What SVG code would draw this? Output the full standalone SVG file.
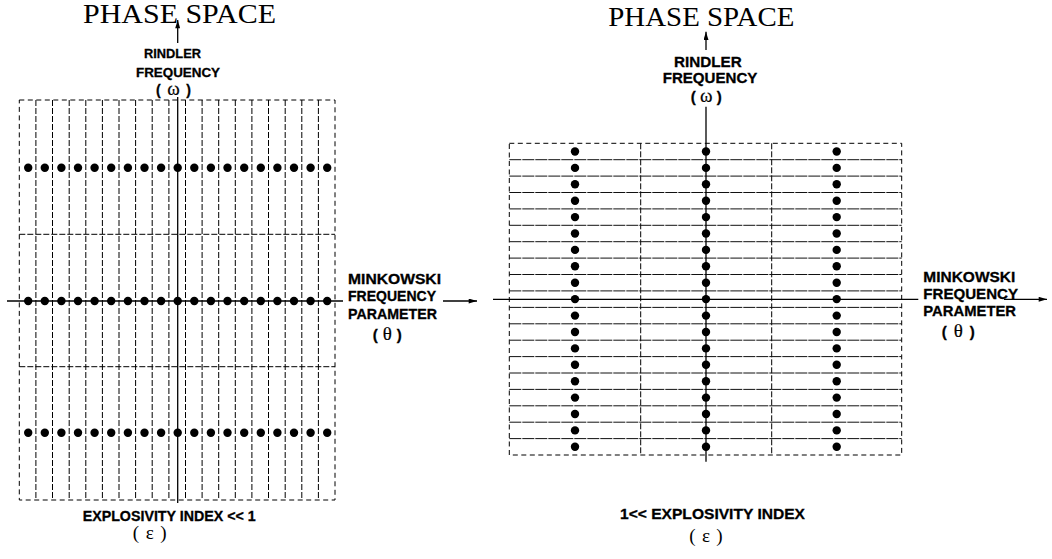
<svg xmlns="http://www.w3.org/2000/svg" width="1052" height="559" viewBox="0 0 1052 559">
<style>
.title{font-family:"Liberation Serif","Times New Roman",serif;font-size:27px;fill:#000}
.lab{font-family:"Liberation Sans",Arial,sans-serif;font-weight:bold;fill:#000;stroke:#000;stroke-width:0.3}
.greek{font-family:"Liberation Serif","Times New Roman",serif;font-weight:normal;font-size:19px;stroke-width:0.2}
.ser{font-family:"Liberation Serif","Times New Roman",serif;font-size:19px;fill:#000}
.outer{fill:none;stroke:#000;stroke-width:1;stroke-dasharray:5 3.5}
.vin{stroke:#000;stroke-width:1;stroke-dasharray:6 2}
.hin{stroke:#111;stroke-width:1;stroke-dasharray:12 1}
.axis{stroke:#000;stroke-width:1.3;fill:none}
.dot{fill:#000}
</style>
<defs>
<marker id="ah" viewBox="0 0 10 6" markerWidth="9" markerHeight="5" refX="10" refY="3" orient="auto" markerUnits="userSpaceOnUse">
<path d="M0,0 L10,3 L0,6 z" fill="#000"/>
</marker>
<circle id="d" r="4.2" class="dot"/>
</defs>

<!-- LEFT PANEL -->
<g id="left-title">
<text class="title" x="83" y="23" textLength="193" lengthAdjust="spacingAndGlyphs">PHASE SPACE</text>
</g>
<g id="left-rindler-label">
<text class="lab" font-size="13" x="144" y="58.3" textLength="57" lengthAdjust="spacingAndGlyphs">RINDLER</text>
<text class="lab" font-size="13" x="136" y="76.7" textLength="84" lengthAdjust="spacingAndGlyphs">FREQUENCY</text>
<text class="lab" font-size="14" x="156" y="95" textLength="35" lengthAdjust="spacing">(<tspan class="greek"> ω </tspan>)</text>
</g>
<g id="left-grid">
<rect class="outer" x="19.3" y="100" width="315.7" height="400"/>
<g class="vin">
<line x1="35.9" y1="100" x2="35.9" y2="500"/>
<line x1="52.5" y1="100" x2="52.5" y2="500"/>
<line x1="69.2" y1="100" x2="69.2" y2="500"/>
<line x1="85.8" y1="100" x2="85.8" y2="500"/>
<line x1="102.4" y1="100" x2="102.4" y2="500"/>
<line x1="119.0" y1="100" x2="119.0" y2="500"/>
<line x1="135.6" y1="100" x2="135.6" y2="500"/>
<line x1="152.2" y1="100" x2="152.2" y2="500"/>
<line x1="168.9" y1="100" x2="168.9" y2="500"/>
<line x1="185.5" y1="100" x2="185.5" y2="500"/>
<line x1="202.1" y1="100" x2="202.1" y2="500"/>
<line x1="218.7" y1="100" x2="218.7" y2="500"/>
<line x1="235.3" y1="100" x2="235.3" y2="500"/>
<line x1="251.9" y1="100" x2="251.9" y2="500"/>
<line x1="268.5" y1="100" x2="268.5" y2="500"/>
<line x1="285.2" y1="100" x2="285.2" y2="500"/>
<line x1="301.8" y1="100" x2="301.8" y2="500"/>
<line x1="318.4" y1="100" x2="318.4" y2="500"/>
</g>
<line class="vin" x1="19.3" y1="234.3" x2="335" y2="234.3"/>
<line class="vin" x1="19.3" y1="366.7" x2="335" y2="366.7"/>
</g>
<g id="left-dots">
<g transform="translate(0,167.7)">
<use href="#d" x="28.2"/><use href="#d" x="44.8"/><use href="#d" x="61.4"/><use href="#d" x="78.0"/><use href="#d" x="94.6"/><use href="#d" x="111.2"/><use href="#d" x="127.9"/><use href="#d" x="144.5"/><use href="#d" x="161.1"/><use href="#d" x="177.7"/><use href="#d" x="194.3"/><use href="#d" x="210.9"/><use href="#d" x="227.5"/><use href="#d" x="244.2"/><use href="#d" x="260.8"/><use href="#d" x="277.4"/><use href="#d" x="294.0"/><use href="#d" x="310.6"/><use href="#d" x="327.2"/>
</g>
<g transform="translate(0,301)">
<use href="#d" x="28.2"/><use href="#d" x="44.8"/><use href="#d" x="61.4"/><use href="#d" x="78.0"/><use href="#d" x="94.6"/><use href="#d" x="111.2"/><use href="#d" x="127.9"/><use href="#d" x="144.5"/><use href="#d" x="161.1"/><use href="#d" x="177.7"/><use href="#d" x="194.3"/><use href="#d" x="210.9"/><use href="#d" x="227.5"/><use href="#d" x="244.2"/><use href="#d" x="260.8"/><use href="#d" x="277.4"/><use href="#d" x="294.0"/><use href="#d" x="310.6"/><use href="#d" x="327.2"/>
</g>
<g transform="translate(0,432.7)">
<use href="#d" x="28.2"/><use href="#d" x="44.8"/><use href="#d" x="61.4"/><use href="#d" x="78.0"/><use href="#d" x="94.6"/><use href="#d" x="111.2"/><use href="#d" x="127.9"/><use href="#d" x="144.5"/><use href="#d" x="161.1"/><use href="#d" x="177.7"/><use href="#d" x="194.3"/><use href="#d" x="210.9"/><use href="#d" x="227.5"/><use href="#d" x="244.2"/><use href="#d" x="260.8"/><use href="#d" x="277.4"/><use href="#d" x="294.0"/><use href="#d" x="310.6"/><use href="#d" x="327.2"/>
</g>
</g>
<g id="left-minkowski-label">
<text class="lab" font-size="14" x="348" y="284" textLength="93" lengthAdjust="spacingAndGlyphs">MINKOWSKI</text>
<text class="lab" font-size="14" x="348" y="301" textLength="88" lengthAdjust="spacingAndGlyphs">FREQUENCY</text>
<text class="lab" font-size="14" x="348" y="318.5" textLength="89" lengthAdjust="spacingAndGlyphs">PARAMETER</text>
<text class="lab" font-size="15" x="372.7" y="340" textLength="29" lengthAdjust="spacing">(<tspan class="greek">θ</tspan>)</text>
</g>
<g id="left-explosivity-label">
<text class="lab" font-size="14" x="82.7" y="521" textLength="173" lengthAdjust="spacingAndGlyphs">EXPLOSIVITY INDEX &lt;&lt; 1</text>
<text class="ser" x="132.7" y="539" textLength="34" lengthAdjust="spacing">( ε )</text>
</g>

<!-- RIGHT PANEL -->
<g id="right-title">
<text class="title" x="608.3" y="26" textLength="186" lengthAdjust="spacingAndGlyphs">PHASE SPACE</text>
</g>
<g id="right-rindler-label">
<text class="lab" font-size="15" x="674" y="66.7" textLength="67.7" lengthAdjust="spacingAndGlyphs">RINDLER</text>
<text class="lab" font-size="15" x="662.7" y="83.3" textLength="94.7" lengthAdjust="spacingAndGlyphs">FREQUENCY</text>
<text class="lab" font-size="15" x="690.7" y="101.7" textLength="31" lengthAdjust="spacing">(<tspan class="greek">ω</tspan>)</text>
</g>
<g id="right-grid">
<rect class="outer" x="509.3" y="143.3" width="392.4" height="311.7"/>
<line class="vin" x1="640.7" y1="143.3" x2="640.7" y2="455"/>
<line class="vin" x1="771.7" y1="143.3" x2="771.7" y2="455"/>
<g class="hin">
<line x1="509.3" y1="159.7" x2="901.7" y2="159.7"/>
<line x1="509.3" y1="176.1" x2="901.7" y2="176.1"/>
<line x1="509.3" y1="192.5" x2="901.7" y2="192.5"/>
<line x1="509.3" y1="208.9" x2="901.7" y2="208.9"/>
<line x1="509.3" y1="225.3" x2="901.7" y2="225.3"/>
<line x1="509.3" y1="241.7" x2="901.7" y2="241.7"/>
<line x1="509.3" y1="258.1" x2="901.7" y2="258.1"/>
<line x1="509.3" y1="274.5" x2="901.7" y2="274.5"/>
<line x1="509.3" y1="290.9" x2="901.7" y2="290.9"/>
<line x1="509.3" y1="307.4" x2="901.7" y2="307.4"/>
<line x1="509.3" y1="323.8" x2="901.7" y2="323.8"/>
<line x1="509.3" y1="340.2" x2="901.7" y2="340.2"/>
<line x1="509.3" y1="356.6" x2="901.7" y2="356.6"/>
<line x1="509.3" y1="373.0" x2="901.7" y2="373.0"/>
<line x1="509.3" y1="389.4" x2="901.7" y2="389.4"/>
<line x1="509.3" y1="405.8" x2="901.7" y2="405.8"/>
<line x1="509.3" y1="422.2" x2="901.7" y2="422.2"/>
<line x1="509.3" y1="438.6" x2="901.7" y2="438.6"/>
</g>
</g>
<g id="right-dots">
<g transform="translate(575,0)">
<use href="#d" y="151.5"/><use href="#d" y="167.9"/><use href="#d" y="184.3"/><use href="#d" y="200.7"/><use href="#d" y="217.1"/><use href="#d" y="233.5"/><use href="#d" y="249.9"/><use href="#d" y="266.3"/><use href="#d" y="282.7"/><use href="#d" y="299.1"/><use href="#d" y="315.6"/><use href="#d" y="332.0"/><use href="#d" y="348.4"/><use href="#d" y="364.8"/><use href="#d" y="381.2"/><use href="#d" y="397.6"/><use href="#d" y="414.0"/><use href="#d" y="430.4"/><use href="#d" y="446.8"/>
</g>
<g transform="translate(706,0)">
<use href="#d" y="151.5"/><use href="#d" y="167.9"/><use href="#d" y="184.3"/><use href="#d" y="200.7"/><use href="#d" y="217.1"/><use href="#d" y="233.5"/><use href="#d" y="249.9"/><use href="#d" y="266.3"/><use href="#d" y="282.7"/><use href="#d" y="299.1"/><use href="#d" y="315.6"/><use href="#d" y="332.0"/><use href="#d" y="348.4"/><use href="#d" y="364.8"/><use href="#d" y="381.2"/><use href="#d" y="397.6"/><use href="#d" y="414.0"/><use href="#d" y="430.4"/><use href="#d" y="446.8"/>
</g>
<g transform="translate(836.7,0)">
<use href="#d" y="151.5"/><use href="#d" y="167.9"/><use href="#d" y="184.3"/><use href="#d" y="200.7"/><use href="#d" y="217.1"/><use href="#d" y="233.5"/><use href="#d" y="249.9"/><use href="#d" y="266.3"/><use href="#d" y="282.7"/><use href="#d" y="299.1"/><use href="#d" y="315.6"/><use href="#d" y="332.0"/><use href="#d" y="348.4"/><use href="#d" y="364.8"/><use href="#d" y="381.2"/><use href="#d" y="397.6"/><use href="#d" y="414.0"/><use href="#d" y="430.4"/><use href="#d" y="446.8"/>
</g>
</g>
<g id="right-minkowski-label">
<text class="lab" font-size="15" x="923.3" y="282.3" textLength="92" lengthAdjust="spacingAndGlyphs">MINKOWSKI</text>
<text class="lab" font-size="15" x="923.3" y="299.3" textLength="94.7" lengthAdjust="spacingAndGlyphs">FREQUENCY</text>
<text class="lab" font-size="15" x="923.3" y="316" textLength="92.7" lengthAdjust="spacingAndGlyphs">PARAMETER</text>
<text class="lab" font-size="15" x="941.7" y="336.7" textLength="33" lengthAdjust="spacing">(<tspan class="greek">θ</tspan>)</text>
</g>
<g id="right-explosivity-label">
<text class="lab" font-size="15.5" x="620" y="519.3" textLength="185" lengthAdjust="spacingAndGlyphs">1&lt;&lt; EXPLOSIVITY INDEX</text>
<text class="ser" x="689.3" y="541.5" textLength="33.4" lengthAdjust="spacing">( ε )</text>
</g>

<!-- CONNECTORS / AXES -->
<g id="connectors">
<line class="axis" x1="177.7" y1="43" x2="177.7" y2="20" marker-end="url(#ah)"/>
<line class="axis" x1="177.7" y1="97" x2="177.7" y2="503"/>
<line class="axis" x1="7" y1="301" x2="343" y2="301"/>
<line class="axis" x1="443" y1="301" x2="477" y2="301" marker-end="url(#ah)"/>
<line class="axis" x1="706" y1="50" x2="706" y2="31.7" marker-end="url(#ah)"/>
<line class="axis" x1="706" y1="106.7" x2="706" y2="461.7"/>
<line class="axis" x1="493" y1="299.3" x2="918.3" y2="299.3"/>
<line class="axis" x1="1004" y1="299.3" x2="1047" y2="299.3" marker-end="url(#ah)"/>
</g>
</svg>
